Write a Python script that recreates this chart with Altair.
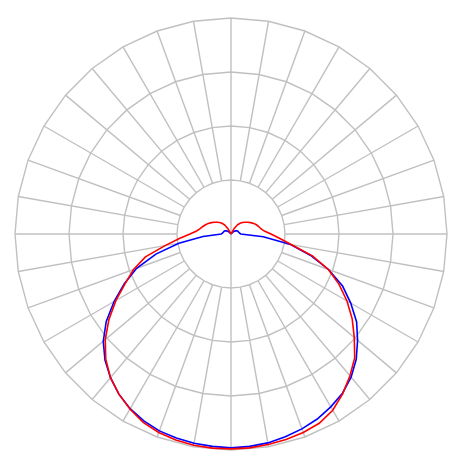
import altair as alt
import pandas as pd

# angles (degrees from straight down), 0..180 step 5
angles = list(range(0, 181, 5))

red_left = [0.995, 0.995, 0.993, 0.987, 0.978, 0.962, 0.936, 0.905, 0.868, 0.82,
            0.76, 0.69, 0.615, 0.54, 0.48, 0.41, 0.31, 0.24, 0.19, 0.16,
            0.145, 0.135, 0.125, 0.116, 0.105, 0.095, 0.085, 0.075, 0.065, 0.052,
            0.03, 0, 0, 0, 0, 0, 0]
red_right = [0.995, 0.994, 0.99, 0.985, 0.978, 0.967, 0.942, 0.902, 0.857, 0.81,
             0.745, 0.685, 0.62, 0.552, 0.48, 0.39, 0.285, 0.225, 0.185, 0.155,
             0.14, 0.133, 0.125, 0.116, 0.105, 0.095, 0.085, 0.075, 0.065, 0.052,
             0.03, 0, 0, 0, 0, 0, 0]
blue_left = [0.99, 0.987, 0.984, 0.978, 0.97, 0.955, 0.934, 0.905, 0.868, 0.825,
             0.772, 0.705, 0.625, 0.545, 0.465, 0.36, 0.245, 0.13, 0.045, 0.04,
             0.038, 0.036, 0.035, 0.034, 0.03, 0.025, 0.02, 0.012, 0, 0,
             0, 0, 0, 0, 0, 0, 0]
blue_right = [0.99, 0.987, 0.982, 0.972, 0.96, 0.945, 0.924, 0.9, 0.865, 0.82,
              0.765, 0.71, 0.64, 0.57, 0.48, 0.38, 0.28, 0.15, 0.045, 0.04,
              0.038, 0.036, 0.035, 0.034, 0.03, 0.025, 0.02, 0.012, 0, 0,
              0, 0, 0, 0, 0, 0, 0]

ring_radii = [0.25, 0.5, 0.75, 1.0]
spoke_angles = list(range(0, 360, 10))

series_names = ["C0-C180", "C90-C270"]
series_colors = ["#ff0000", "#0000ff"]


def curve_table(left, right):
    rows = []
    for a, r in zip(angles, left):
        rows.append({"phi": -a, "r": r})
    for a, r in zip(angles, right):
        if a == 0:
            continue
        rows.append({"phi": a, "r": r})
    return pd.DataFrame(rows)


red_df = curve_table(red_left, red_right)
blue_df = curve_table(blue_left, blue_right)

# ring table (36-gon rings)
ring_rows = []
for rr in ring_radii:
    for a in list(range(0, 361, 10)):
        ring_rows.append({"ring": rr, "a": a})
rings = pd.DataFrame(ring_rows)

# spoke table
spokes = pd.DataFrame({"a": spoke_angles})
spokes["r0"] = [0.0 if a in (0, 180) else ring_radii[0] for a in spoke_angles]

xs = alt.Scale(domain=[-1, 1], nice=False, zero=False)
ys = alt.Scale(domain=[-1, 1], nice=False, zero=False)
grid_color = "#c0c0c0"

ring_layer = alt.Chart(rings).transform_calculate(
    x="datum.ring * sin(datum.a * PI / 180)",
    y="-datum.ring * cos(datum.a * PI / 180)",
).mark_line(color=grid_color, strokeWidth=1.4).encode(
    x=alt.X("x:Q", scale=xs, axis=None),
    y=alt.Y("y:Q", scale=ys, axis=None),
    detail="ring:N",
    order=alt.Order("a:Q"),
)

spoke_layer = alt.Chart(spokes).transform_calculate(
    x="datum.r0 * sin(datum.a * PI / 180)",
    y="-datum.r0 * cos(datum.a * PI / 180)",
    x2="sin(datum.a * PI / 180)",
    y2="-cos(datum.a * PI / 180)",
).mark_rule(color=grid_color, strokeWidth=1.4).encode(
    x=alt.X("x:Q", scale=xs, axis=None),
    y=alt.Y("y:Q", scale=ys, axis=None),
    x2="x2:Q",
    y2="y2:Q",
)


def curve_layer(df, color):
    return alt.Chart(df).transform_calculate(
        x="datum.r * sin(datum.phi * PI / 180)",
        y="-datum.r * cos(datum.phi * PI / 180)",
    ).mark_line(strokeWidth=1.6, color=color).encode(
        x=alt.X("x:Q", scale=xs, axis=None),
        y=alt.Y("y:Q", scale=ys, axis=None),
        order=alt.Order("phi:Q"),
    )


chart = alt.layer(
    ring_layer, spoke_layer,
    curve_layer(blue_df, series_colors[1]),
    curve_layer(red_df, series_colors[0]),
).properties(
    width=432, height=432,
    padding={"left": 4, "top": 7, "right": 0, "bottom": 0},
).configure_view(stroke=None)

chart.save("out.html", embed_options={"renderer": "svg", "actions": False})
